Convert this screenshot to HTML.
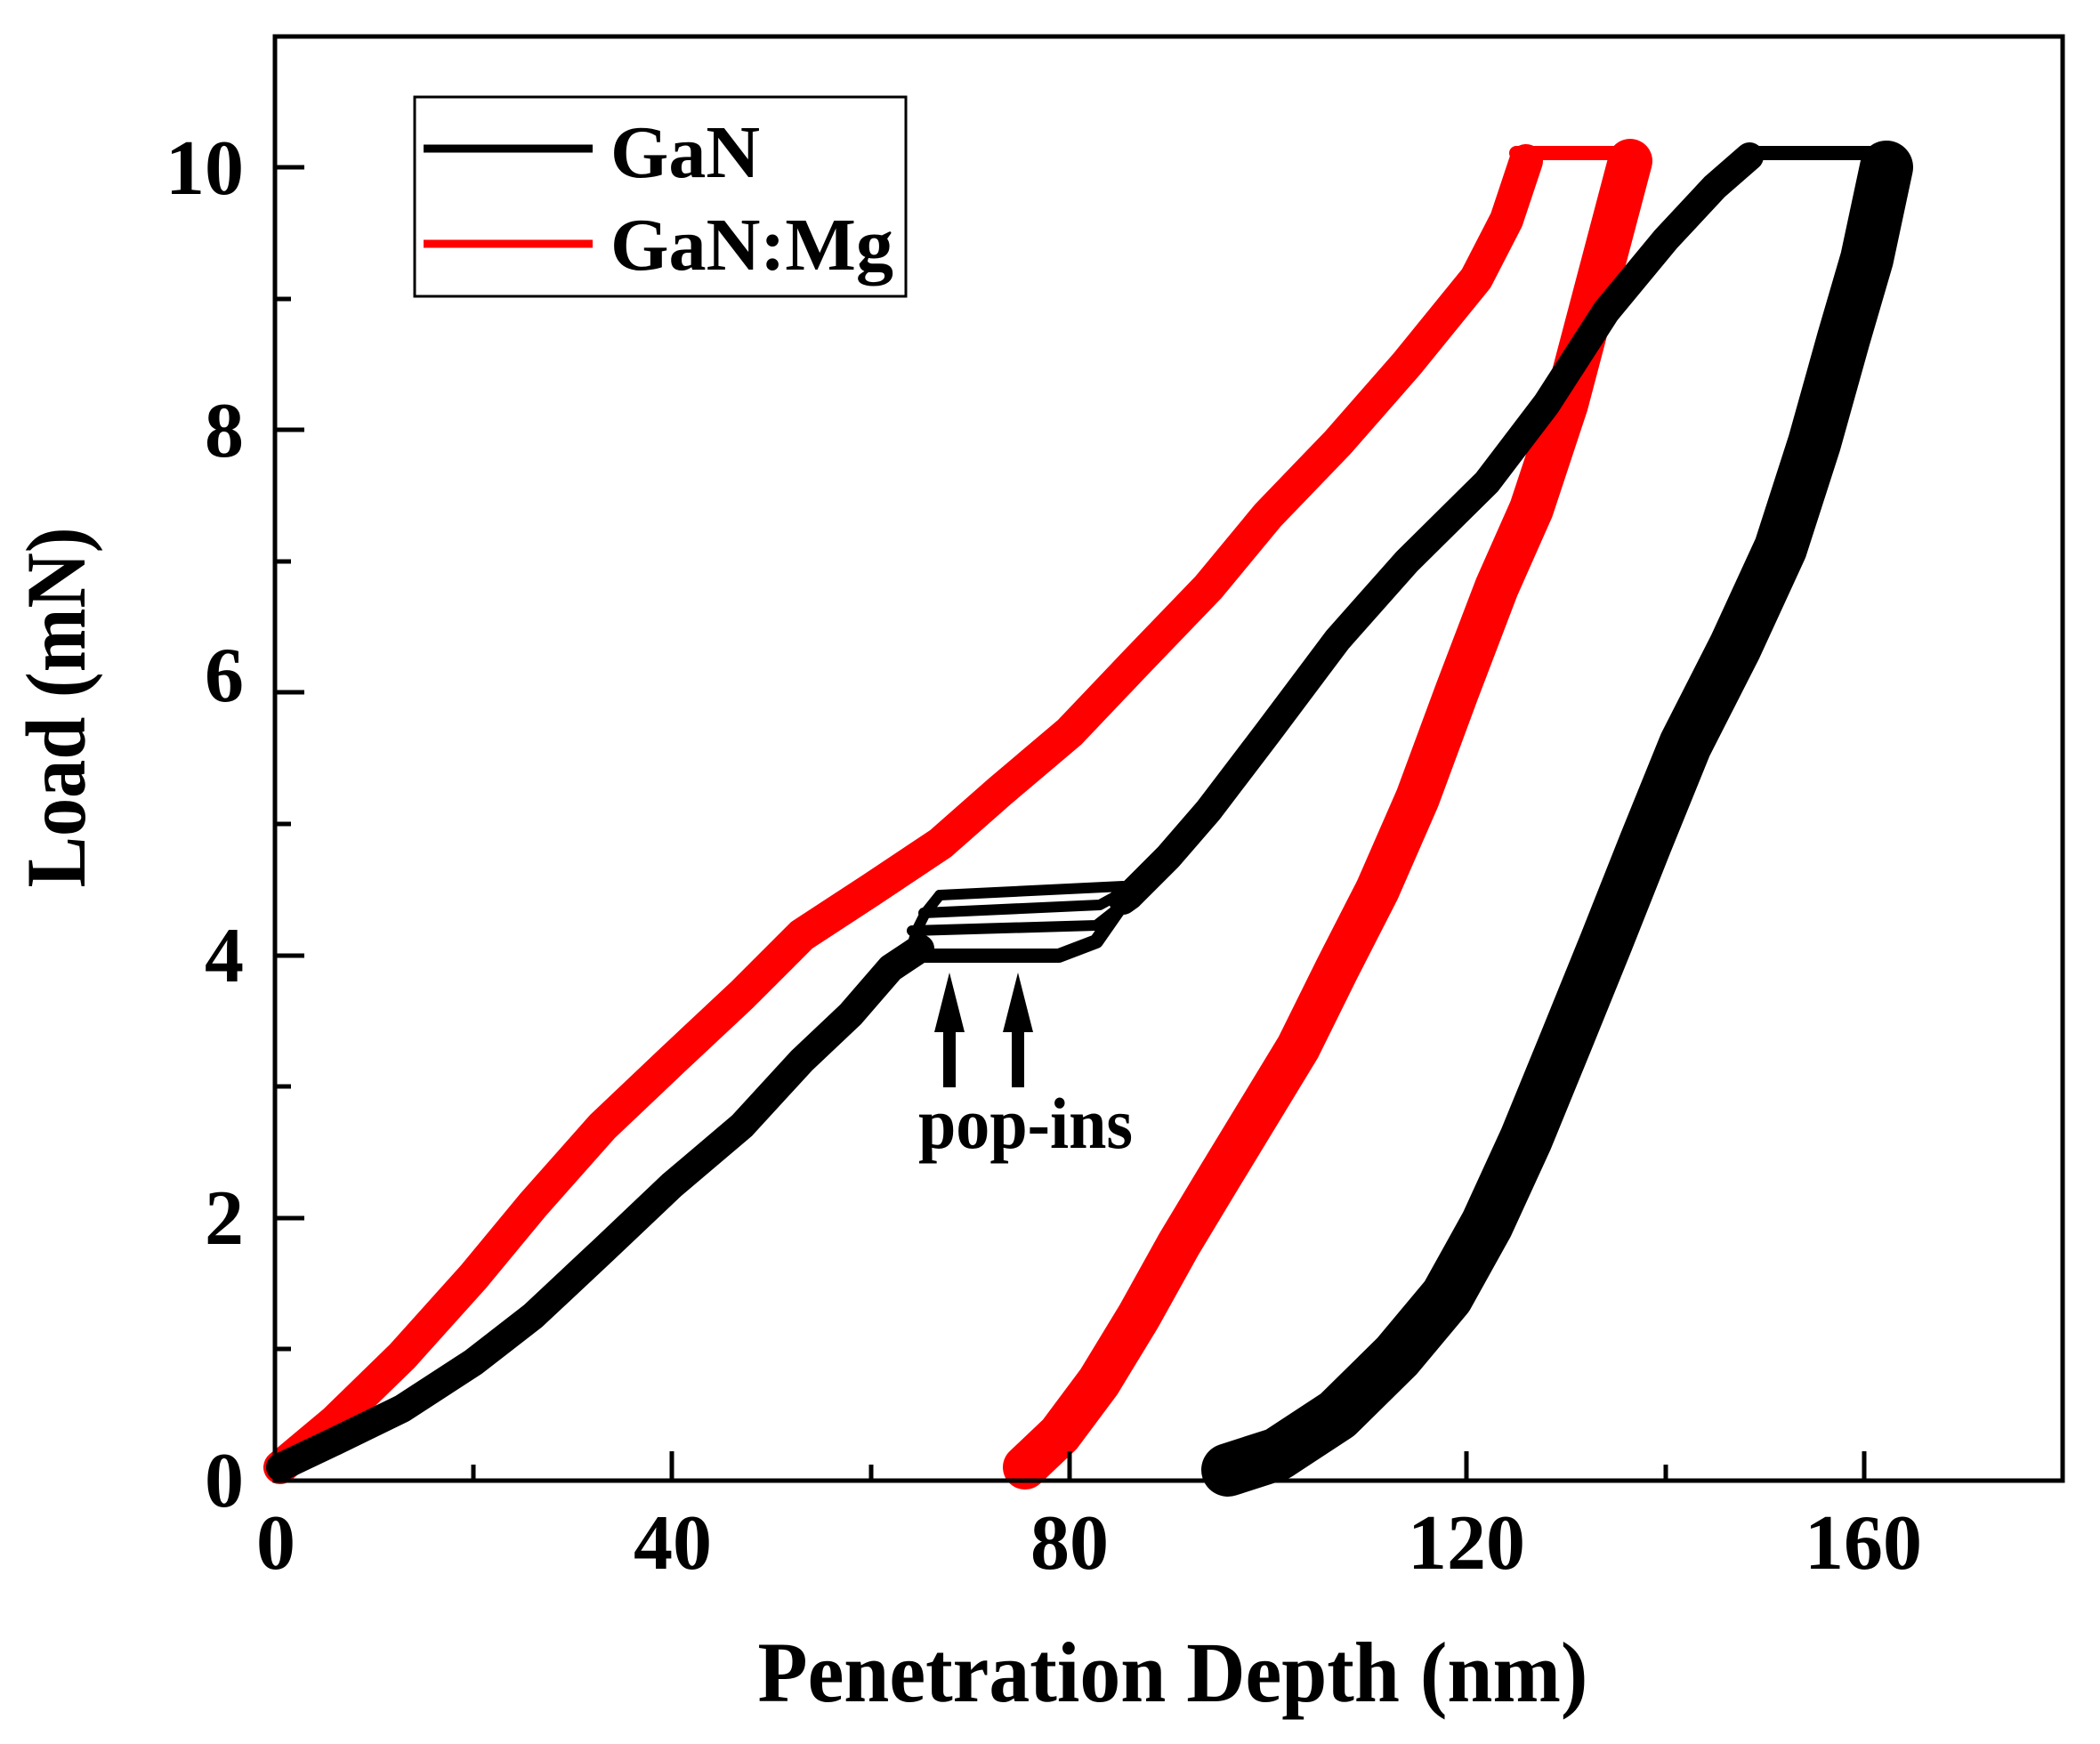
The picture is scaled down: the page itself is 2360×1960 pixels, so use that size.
<!DOCTYPE html>
<html><head><meta charset="utf-8"><style>
html,body{margin:0;padding:0;background:#fff}
svg{display:block}
text{font-family:"Liberation Serif",serif;font-weight:bold;fill:#000}
</style></head><body>
<svg width="2360" height="1960" viewBox="0 0 2360 1960" xmlns="http://www.w3.org/2000/svg">
<rect width="2360" height="1960" fill="#fff"/>
<g fill="none" stroke-linejoin="round" stroke-linecap="round">
 <!-- GaN:Mg loading -->
 <polyline stroke="#f00" stroke-width="38" points="315,1649 376,1598 452,1524 532,1435 599,1354 677,1266 755,1192 834,1118 901,1051 979,1000 1057,948 1124,889 1202,823 1280,741 1358,660 1425,579 1503,498 1581,409 1659,313 1693,247 1715,181"/>
 <polyline stroke="#f00" stroke-width="16" points="1704,172 1838,172"/>
 <!-- GaN:Mg unloading -->
 <polyline stroke="#f00" stroke-width="50" points="1832,181 1799,306 1760,454 1721,572 1682,660 1637,778 1593,897 1548,1000 1503,1088 1459,1177 1414,1251 1369,1325 1325,1398 1280,1479 1235,1553 1191,1612 1152,1649"/>
 <!-- GaN loading -->
 <polyline stroke="#000" stroke-width="32" points="315,1649 376,1620 452,1583 532,1531 599,1479 677,1406 755,1332 834,1265 901,1192 956,1140 1001,1088 1034,1066"/>
 <polyline stroke="#000" stroke-width="16" points="1022,1074 1190,1074 1232,1058 1262,1015"/>
 <polyline stroke="#000" stroke-width="12" points="1025,1046 1232,1040 1255,1022"/>
 <polyline stroke="#000" stroke-width="12" points="1038,1026 1236,1017 1258,1005"/>
 <polyline stroke="#000" stroke-width="12" points="1056,1006 1262,996"/>
 <polyline stroke="#000" stroke-width="12" points="1022,1074 1030,1046 1040,1026 1056,1006"/>
 <polyline stroke="#000" stroke-width="32" points="1262,1012 1269,1007 1313,963 1358,911 1425,823 1503,719 1581,631 1671,542 1738,454 1805,350 1872,269 1927,210 1966,176"/>
 <polyline stroke="#000" stroke-width="16" points="1966,172 2134,172"/>
 <!-- GaN unloading -->
 <polyline stroke="#000" stroke-width="60" points="2120,188 2098,291 2072,380 2039,498 2001,616 1950,727 1894,837 1849,948 1805,1059 1760,1170 1715,1280 1671,1376 1626,1457 1570,1524 1503,1590 1436,1634 1380,1652"/>
</g>
<!-- frame -->
<rect x="309" y="41" width="2009" height="1623" fill="none" stroke="#000" stroke-width="5"/>
<g stroke="#000" stroke-width="5">
 <line x1="309" y1="1664" x2="309" y2="1631"/><line x1="755" y1="1664" x2="755" y2="1631"/><line x1="1202" y1="1664" x2="1202" y2="1631"/><line x1="1648" y1="1664" x2="1648" y2="1631"/><line x1="2095" y1="1664" x2="2095" y2="1631"/>
 <line x1="532" y1="1664" x2="532" y2="1646"/><line x1="979" y1="1664" x2="979" y2="1646"/><line x1="1425" y1="1664" x2="1425" y2="1646"/><line x1="1872" y1="1664" x2="1872" y2="1646"/>
 <line x1="309" y1="1369" x2="342" y2="1369"/><line x1="309" y1="1074" x2="342" y2="1074"/><line x1="309" y1="778" x2="342" y2="778"/><line x1="309" y1="483" x2="342" y2="483"/><line x1="309" y1="188" x2="342" y2="188"/>
 <line x1="309" y1="1516" x2="327" y2="1516"/><line x1="309" y1="1221" x2="327" y2="1221"/><line x1="309" y1="926" x2="327" y2="926"/><line x1="309" y1="631" x2="327" y2="631"/><line x1="309" y1="336" x2="327" y2="336"/>
</g>
<g font-size="88" text-anchor="middle">
 <text x="310" y="1763">0</text><text x="756" y="1763">40</text><text x="1202" y="1763">80</text><text x="1648" y="1763">120</text><text x="2094" y="1763">160</text>
</g>
<g font-size="88" text-anchor="end">
 <text x="274" y="1693">0</text><text x="274" y="1398">2</text><text x="274" y="1103">4</text><text x="274" y="788">6</text><text x="274" y="513">8</text><text x="274" y="218">10</text>
</g>
<text x="1318" y="1912" font-size="96" text-anchor="middle" textLength="933" lengthAdjust="spacingAndGlyphs">Penetration Depth (nm)</text>
<text transform="translate(95,795) rotate(-90)" font-size="95" text-anchor="middle" textLength="405" lengthAdjust="spacingAndGlyphs">Load (mN)</text>
<!-- legend -->
<rect x="466" y="109" width="552" height="224" fill="#fff" stroke="#000" stroke-width="3"/>
<line x1="476" y1="167" x2="666" y2="167" stroke="#000" stroke-width="9"/>
<line x1="476" y1="274" x2="666" y2="274" stroke="#f00" stroke-width="9"/>
<text x="686" y="199" font-size="84">GaN</text>
<text x="686" y="303" font-size="84" textLength="318" lengthAdjust="spacingAndGlyphs">GaN:Mg</text>
<!-- arrows -->
<g fill="#000">
 <polygon points="1060,1222 1074,1222 1074,1160 1084,1160 1067,1093 1050,1160 1060,1160"/>
 <polygon points="1137,1222 1151,1222 1151,1160 1161,1160 1144,1093 1127,1160 1137,1160"/>
</g>
<text x="1032" y="1290" font-size="82" textLength="241" lengthAdjust="spacingAndGlyphs">pop-ins</text>
</svg>
</body></html>
